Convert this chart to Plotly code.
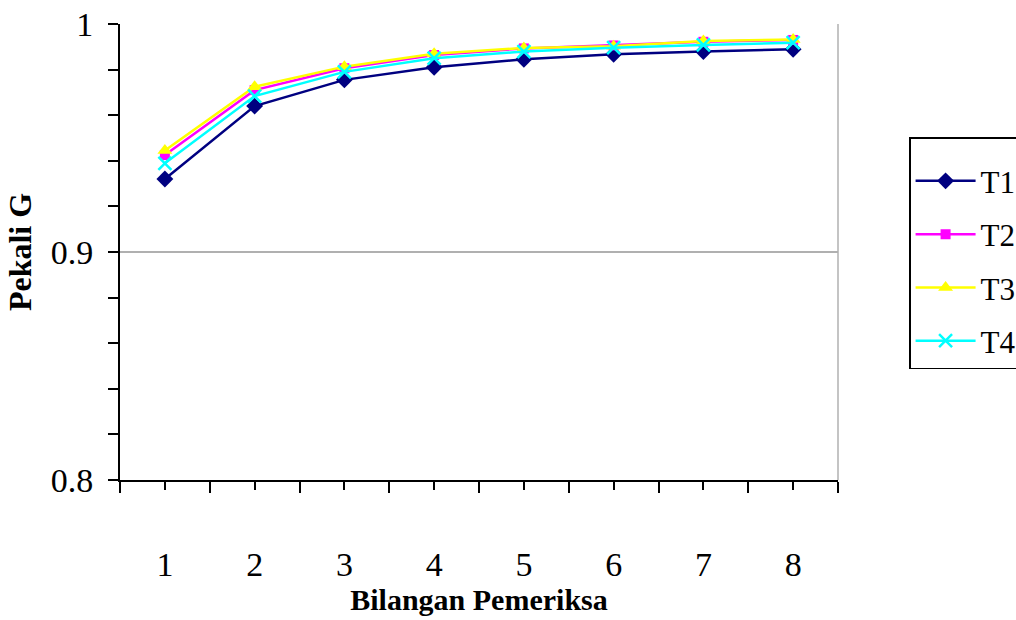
import plotly.graph_objects as go

categories = [1, 2, 3, 4, 5, 6, 7, 8]
t1 = [0.932, 0.964, 0.9755, 0.981, 0.9845, 0.9867, 0.9879, 0.9889]
t2 = [0.9425, 0.971, 0.9806, 0.9864, 0.9893, 0.9906, 0.9922, 0.993]
t3 = [0.9445, 0.9725, 0.9813, 0.987, 0.9895, 0.9902, 0.9925, 0.9932]
t4 = [0.9389, 0.9684, 0.979, 0.985, 0.9879, 0.9896, 0.9908, 0.9918]
series_names = ["T1", "T2", "T3", "T4"]
colors = ["#000080", "#FF00FF", "#FFFF00", "#00FFFF"]
symbols = ["diamond", "square", "triangle-up", "x-thin"]
sizes = [13, 10, 13, 13]

FONT = "Liberation Serif, Times New Roman, serif"

fig = go.Figure()
for i, (name, vals) in enumerate(zip(series_names, [t1, t2, t3, t4])):
    marker = dict(symbol=symbols[i], size=sizes[i], color=colors[i])
    if symbols[i] == "x-thin":
        marker["line"] = dict(color=colors[i], width=2.5)
    fig.add_trace(go.Scatter(
        x=categories, y=vals, name=name, mode="lines+markers",
        line=dict(color=colors[i], width=2.5),
        marker=marker, legendgroup=name,
    ))

fig.update_layout(
    width=1016, height=620,
    margin=dict(l=120, r=178, t=24, b=140, autoexpand=False),
    paper_bgcolor="white", plot_bgcolor="white",
    font=dict(family=FONT, color="black"),
    showlegend=True,
    legend=dict(
        x=1.099, y=0.752, xanchor="left", yanchor="top",
        bordercolor="black", borderwidth=1.5,
        font=dict(family=FONT, size=31, color="black"),
        title=dict(text=" ", font=dict(family=FONT, size=12)),
        traceorder="grouped", tracegroupgap=10,
        itemwidth=60,
        bgcolor="white",
    ),
    xaxis=dict(
        range=[0.5, 8.5], tickmode="linear", tick0=1, dtick=1,
        ticks="outside", ticklen=8, tickwidth=1.5, tickcolor="black",
        minor=dict(tick0=0.5, dtick=0.5, ticks="outside", ticklen=11,
                   tickwidth=1.5, tickcolor="black"),
        showline=True, linecolor="black", linewidth=2,
        showgrid=False, zeroline=False, automargin=False,
        tickfont=dict(family=FONT, size=34, color="black"),
        ticklabelstandoff=45,
        title=dict(text="<b>Bilangan Pemeriksa</b>", standoff=0,
                   font=dict(family=FONT, size=30, color="black")),
    ),
    yaxis=dict(
        range=[0.8, 1.0], tickmode="linear", tick0=0.8, dtick=0.1,
        tickformat="~g", automargin=False,
        ticks="outside", ticklen=10, tickwidth=1.5, tickcolor="black",
        minor=dict(dtick=0.02, ticks="outside", ticklen=10,
                   tickwidth=1.5, tickcolor="black", showgrid=False),
        showline=True, linecolor="black", linewidth=2,
        showgrid=True, gridcolor="#B0B0B0", gridwidth=1.5,
        zeroline=False,
        tickfont=dict(family=FONT, size=34, color="black"),
        ticklabelstandoff=8,
        title=dict(text="<b>Pekali G</b>", standoff=10,
                   font=dict(family=FONT, size=32, color="black")),
    ),
    shapes=[dict(type="line", xref="paper", yref="paper", x0=1, x1=1, y0=0, y1=1,
                 line=dict(color="#B0B0B0", width=1.5), layer="below")],
)

fig.write_html("out.html")
